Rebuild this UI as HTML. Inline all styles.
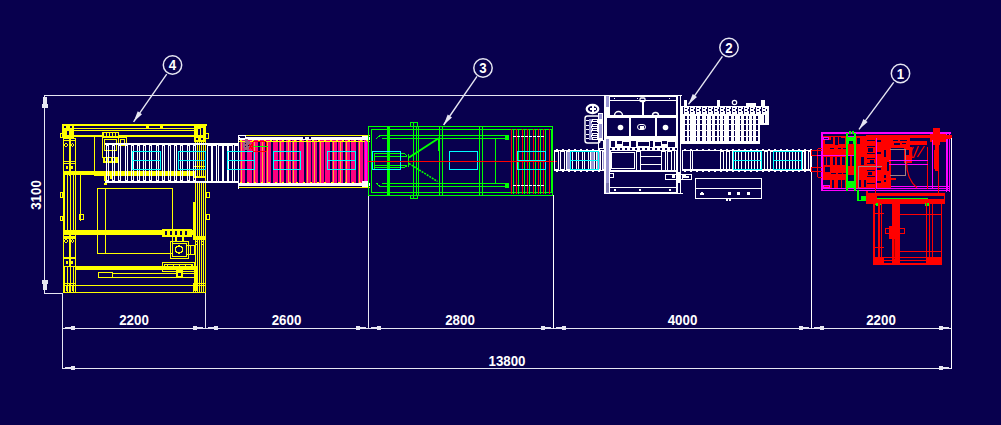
<!DOCTYPE html>
<html><head><meta charset="utf-8"><style>
html,body{margin:0;padding:0;background:#08004e;width:1001px;height:425px;overflow:hidden}
svg{display:block}
text{font-family:"Liberation Sans",sans-serif;font-weight:bold}
</style></head><body>
<svg width="1001" height="425" viewBox="0 0 1001 425" shape-rendering="crispEdges">
<rect width="1001" height="425" fill="#08004e"/>
<rect x="44" y="95" width="561" height="1" fill="#e6e6f2"/>
<rect x="44" y="95" width="1" height="199" fill="#e6e6f2"/>
<rect x="44" y="293" width="19" height="1" fill="#e6e6f2"/>
<rect x="43" y="97" width="4" height="8" fill="#e6e6f2"/>
<rect x="42" y="104" width="6" height="4" fill="#e6e6f2"/>
<rect x="43" y="284" width="4" height="6" fill="#e6e6f2"/>
<rect x="42" y="280" width="6" height="4" fill="#e6e6f2"/>
<text x="0" y="0" font-size="14" fill="#fff" text-anchor="middle" transform="translate(40.8,195) rotate(-90) scale(0.95,1.04)">3100</text>
<rect x="62" y="328" width="890" height="1" fill="#e6e6f2"/>
<rect x="62" y="368" width="890" height="1" fill="#e6e6f2"/>
<rect x="62" y="293" width="1" height="76" fill="#e6e6f2"/>
<rect x="205" y="293" width="1" height="36" fill="#e6e6f2"/>
<rect x="368" y="196" width="1" height="133" fill="#e6e6f2"/>
<rect x="553" y="195" width="1" height="134" fill="#e6e6f2"/>
<rect x="811" y="172" width="1" height="157" fill="#e6e6f2"/>
<rect x="951" y="138" width="1" height="231" fill="#e6e6f2"/>
<rect x="65" y="327" width="10" height="2" fill="#e6e6f2"/>
<rect x="71" y="326" width="4" height="4" fill="#e6e6f2"/>
<rect x="193" y="327" width="10" height="2" fill="#e6e6f2"/>
<rect x="193" y="326" width="4" height="4" fill="#e6e6f2"/>
<rect x="208" y="327" width="10" height="2" fill="#e6e6f2"/>
<rect x="214" y="326" width="4" height="4" fill="#e6e6f2"/>
<rect x="356" y="327" width="10" height="2" fill="#e6e6f2"/>
<rect x="356" y="326" width="4" height="4" fill="#e6e6f2"/>
<rect x="371" y="327" width="10" height="2" fill="#e6e6f2"/>
<rect x="377" y="326" width="4" height="4" fill="#e6e6f2"/>
<rect x="541" y="327" width="10" height="2" fill="#e6e6f2"/>
<rect x="541" y="326" width="4" height="4" fill="#e6e6f2"/>
<rect x="556" y="327" width="10" height="2" fill="#e6e6f2"/>
<rect x="562" y="326" width="4" height="4" fill="#e6e6f2"/>
<rect x="799" y="327" width="10" height="2" fill="#e6e6f2"/>
<rect x="799" y="326" width="4" height="4" fill="#e6e6f2"/>
<rect x="814" y="327" width="10" height="2" fill="#e6e6f2"/>
<rect x="820" y="326" width="4" height="4" fill="#e6e6f2"/>
<rect x="939" y="327" width="10" height="2" fill="#e6e6f2"/>
<rect x="939" y="326" width="4" height="4" fill="#e6e6f2"/>
<rect x="65" y="367" width="10" height="2" fill="#e6e6f2"/>
<rect x="71" y="366" width="4" height="4" fill="#e6e6f2"/>
<rect x="939" y="367" width="10" height="2" fill="#e6e6f2"/>
<rect x="939" y="366" width="4" height="4" fill="#e6e6f2"/>
<text x="0" y="0" font-size="14" fill="#fff" text-anchor="middle" transform="translate(134,325) scale(0.95,1.04)" >2200</text>
<text x="0" y="0" font-size="14" fill="#fff" text-anchor="middle" transform="translate(286.5,325) scale(0.95,1.04)" >2600</text>
<text x="0" y="0" font-size="14" fill="#fff" text-anchor="middle" transform="translate(460,325) scale(0.95,1.04)" >2800</text>
<text x="0" y="0" font-size="14" fill="#fff" text-anchor="middle" transform="translate(682.5,325) scale(0.95,1.04)" >4000</text>
<text x="0" y="0" font-size="14" fill="#fff" text-anchor="middle" transform="translate(881,325) scale(0.95,1.04)" >2200</text>
<text x="0" y="0" font-size="14" fill="#fff" text-anchor="middle" transform="translate(507,366) scale(0.95,1.04)" >13800</text>
<circle cx="172.5" cy="65" r="9.2" fill="none" stroke="#e6e6f2" stroke-width="1.5" shape-rendering="auto"/>
<text x="0" y="0" font-size="14" fill="#fff" text-anchor="middle" transform="translate(172.5,70.2) scale(0.95,1.04)" >4</text>
<line x1="166.7" y1="74.2" x2="133.6" y2="121.8" stroke="#e6e6f2" stroke-width="1.4" shape-rendering="auto"/>
<polygon shape-rendering="auto" points="133.6,121.8 142.0146692787392,114.25325626979141 137.7454138778588,111.28450934186826" fill="#e6e6f2"/>
<circle cx="483" cy="68" r="9.2" fill="none" stroke="#e6e6f2" stroke-width="1.5" shape-rendering="auto"/>
<text x="0" y="0" font-size="14" fill="#fff" text-anchor="middle" transform="translate(483,73.2) scale(0.95,1.04)" >3</text>
<line x1="477" y1="76.4" x2="443.6" y2="125" stroke="#e6e6f2" stroke-width="1.4" shape-rendering="auto"/>
<polygon shape-rendering="auto" points="443.6,125 451.97299990314895,117.40705112476921 447.68746738629096,114.46184976544707" fill="#e6e6f2"/>
<circle cx="729" cy="47.5" r="9.2" fill="none" stroke="#e6e6f2" stroke-width="1.5" shape-rendering="auto"/>
<text x="0" y="0" font-size="14" fill="#fff" text-anchor="middle" transform="translate(729,52.7) scale(0.95,1.04)" >2</text>
<line x1="722.4" y1="56.4" x2="688.5" y2="104.4" stroke="#e6e6f2" stroke-width="1.4" shape-rendering="auto"/>
<polygon shape-rendering="auto" points="688.5,104.4 696.9694682793196,96.91480747972373 692.7219712278464,93.91501268712086" fill="#e6e6f2"/>
<circle cx="900.5" cy="73.5" r="9.2" fill="none" stroke="#e6e6f2" stroke-width="1.5" shape-rendering="auto"/>
<text x="0" y="0" font-size="14" fill="#fff" text-anchor="middle" transform="translate(900.5,78.7) scale(0.95,1.04)" >1</text>
<line x1="893.7" y1="82.3" x2="859" y2="129.4" stroke="#e6e6f2" stroke-width="1.4" shape-rendering="auto"/>
<polygon shape-rendering="auto" points="859,129.4 867.6178048927053,122.08607910684948 863.4312911384976,119.00174731765607" fill="#e6e6f2"/>
<rect x="62" y="124" width="145" height="1" fill="#ffff00"/>
<rect x="62" y="125" width="145" height="1" fill="#ffff00"/>
<rect x="73" y="128" width="122" height="1" fill="#ffff00"/>
<rect x="73" y="130" width="123" height="1" fill="#ffff00"/>
<rect x="73" y="135" width="122" height="1" fill="#ffff00"/>
<rect x="73" y="136" width="122" height="1" fill="#ffff00"/>
<rect x="146" y="126" width="3" height="2" fill="#ffff00"/>
<rect x="160" y="126" width="3" height="2" fill="#ffff00"/>
<rect x="62" y="124" width="12" height="14" fill="#ffff00"/>
<rect x="64" y="126" width="2" height="2" fill="#08004e"/>
<rect x="67" y="131" width="2" height="4" fill="#08004e"/>
<rect x="70" y="126" width="2" height="2" fill="#08004e"/>
<rect x="60" y="133" width="3" height="1" fill="#ffff00"/>
<rect x="60" y="137" width="3" height="1" fill="#ffff00"/>
<rect x="60" y="133" width="1" height="5" fill="#ffff00"/>
<rect x="62" y="133" width="1" height="5" fill="#ffff00"/>
<rect x="194" y="124" width="12" height="18" fill="#ffff00"/>
<rect x="198" y="129" width="2" height="6" fill="#08004e"/>
<rect x="201" y="128" width="2" height="7" fill="#08004e"/>
<rect x="196" y="138" width="2" height="2" fill="#08004e"/>
<rect x="201" y="138" width="2" height="2" fill="#08004e"/>
<rect x="205" y="133" width="4" height="1" fill="#ffff00"/>
<rect x="205" y="138" width="4" height="1" fill="#ffff00"/>
<rect x="205" y="133" width="1" height="6" fill="#ffff00"/>
<rect x="208" y="133" width="1" height="6" fill="#ffff00"/>
<rect x="63" y="175" width="1" height="56" fill="#ffff00"/>
<rect x="64" y="175" width="1" height="56" fill="#ffff00"/>
<rect x="67" y="175" width="1" height="56" fill="#ffff00"/>
<rect x="70" y="175" width="1" height="56" fill="#ffff00"/>
<rect x="73" y="175" width="1" height="56" fill="#ffff00"/>
<rect x="75" y="175" width="1" height="56" fill="#ffff00"/>
<rect x="63" y="266" width="1" height="27" fill="#ffff00"/>
<rect x="64" y="266" width="1" height="27" fill="#ffff00"/>
<rect x="67" y="266" width="1" height="27" fill="#ffff00"/>
<rect x="70" y="266" width="1" height="27" fill="#ffff00"/>
<rect x="73" y="266" width="1" height="27" fill="#ffff00"/>
<rect x="75" y="266" width="1" height="27" fill="#ffff00"/>
<rect x="63" y="230" width="1" height="37" fill="#ffff00"/>
<rect x="69" y="230" width="1" height="37" fill="#ffff00"/>
<rect x="70" y="230" width="1" height="37" fill="#ffff00"/>
<rect x="75" y="230" width="1" height="37" fill="#ffff00"/>
<rect x="80" y="175" width="1" height="46" fill="#ffff00"/>
<rect x="63" y="138" width="1" height="38" fill="#ffff00"/>
<rect x="69" y="138" width="1" height="38" fill="#ffff00"/>
<rect x="63" y="138" width="7" height="1" fill="#ffff00"/>
<rect x="63" y="140" width="7" height="1" fill="#ffff00"/>
<rect x="63" y="138" width="1" height="3" fill="#ffff00"/>
<rect x="69" y="138" width="1" height="3" fill="#ffff00"/>
<circle cx="66.0" cy="145" r="1.3" fill="none" stroke="#ffff00" stroke-width="1"/>
<rect x="63" y="161" width="7" height="1" fill="#ffff00"/>
<rect x="63" y="236" width="7" height="3" fill="#ffff00"/>
<circle cx="66.0" cy="241" r="1.3" fill="none" stroke="#ffff00" stroke-width="1"/>
<rect x="63" y="257" width="7" height="1" fill="#ffff00"/>
<rect x="63" y="283" width="7" height="1" fill="#ffff00"/>
<rect x="63" y="292" width="7" height="1" fill="#ffff00"/>
<rect x="63" y="283" width="1" height="10" fill="#ffff00"/>
<rect x="69" y="283" width="1" height="10" fill="#ffff00"/>
<rect x="63" y="285" width="7" height="1" fill="#ffff00"/>
<rect x="66" y="286" width="1" height="5" fill="#ffff00"/>
<rect x="70" y="138" width="1" height="38" fill="#ffff00"/>
<rect x="75" y="138" width="1" height="38" fill="#ffff00"/>
<rect x="70" y="138" width="6" height="1" fill="#ffff00"/>
<rect x="70" y="140" width="6" height="1" fill="#ffff00"/>
<rect x="70" y="138" width="1" height="3" fill="#ffff00"/>
<rect x="75" y="138" width="1" height="3" fill="#ffff00"/>
<circle cx="72.5" cy="145" r="1.3" fill="none" stroke="#ffff00" stroke-width="1"/>
<rect x="70" y="161" width="6" height="1" fill="#ffff00"/>
<rect x="70" y="236" width="6" height="3" fill="#ffff00"/>
<circle cx="72.5" cy="241" r="1.3" fill="none" stroke="#ffff00" stroke-width="1"/>
<rect x="70" y="257" width="6" height="1" fill="#ffff00"/>
<rect x="70" y="283" width="6" height="1" fill="#ffff00"/>
<rect x="70" y="292" width="6" height="1" fill="#ffff00"/>
<rect x="70" y="283" width="1" height="10" fill="#ffff00"/>
<rect x="75" y="283" width="1" height="10" fill="#ffff00"/>
<rect x="70" y="285" width="6" height="1" fill="#ffff00"/>
<rect x="72" y="286" width="1" height="5" fill="#ffff00"/>
<rect x="63" y="163" width="13" height="1" fill="#ffff00"/>
<rect x="63" y="171" width="13" height="1" fill="#ffff00"/>
<rect x="63" y="163" width="1" height="9" fill="#ffff00"/>
<rect x="75" y="163" width="1" height="9" fill="#ffff00"/>
<rect x="66" y="166" width="2" height="3" fill="#ffff00"/>
<rect x="71" y="166" width="2" height="3" fill="#ffff00"/>
<rect x="63" y="258" width="13" height="1" fill="#ffff00"/>
<rect x="63" y="266" width="13" height="1" fill="#ffff00"/>
<rect x="63" y="258" width="1" height="9" fill="#ffff00"/>
<rect x="75" y="258" width="1" height="9" fill="#ffff00"/>
<rect x="66" y="261" width="2" height="3" fill="#ffff00"/>
<rect x="71" y="261" width="2" height="3" fill="#ffff00"/>
<rect x="63" y="171" width="32" height="4" fill="#ffff00"/>
<rect x="60" y="192" width="3" height="1" fill="#ffff00"/>
<rect x="60" y="197" width="3" height="1" fill="#ffff00"/>
<rect x="60" y="192" width="1" height="6" fill="#ffff00"/>
<rect x="62" y="192" width="1" height="6" fill="#ffff00"/>
<rect x="60" y="216" width="3" height="1" fill="#ffff00"/>
<rect x="60" y="220" width="3" height="1" fill="#ffff00"/>
<rect x="60" y="216" width="1" height="5" fill="#ffff00"/>
<rect x="62" y="216" width="1" height="5" fill="#ffff00"/>
<rect x="195" y="141" width="1" height="152" fill="#ffff00"/>
<rect x="197" y="141" width="1" height="152" fill="#ffff00"/>
<rect x="199" y="141" width="1" height="152" fill="#ffff00"/>
<rect x="201" y="141" width="1" height="152" fill="#ffff00"/>
<rect x="203" y="141" width="1" height="152" fill="#ffff00"/>
<rect x="205" y="141" width="1" height="152" fill="#ffff00"/>
<rect x="193" y="202" width="3" height="34" fill="#ffff00"/>
<rect x="193" y="166" width="13" height="1" fill="#ffff00"/>
<rect x="193" y="169" width="13" height="1" fill="#ffff00"/>
<rect x="193" y="166" width="1" height="4" fill="#ffff00"/>
<rect x="205" y="166" width="1" height="4" fill="#ffff00"/>
<rect x="193" y="176" width="13" height="7" fill="#ffff00"/>
<rect x="194" y="178" width="11" height="3" fill="#08004e"/>
<rect x="193" y="236" width="13" height="4" fill="#ffff00"/>
<circle cx="196.5" cy="243" r="1.3" fill="none" stroke="#ffff00" stroke-width="1"/>
<circle cx="202.5" cy="243" r="1.3" fill="none" stroke="#ffff00" stroke-width="1"/>
<rect x="193" y="283" width="13" height="1" fill="#ffff00"/>
<rect x="193" y="292" width="13" height="1" fill="#ffff00"/>
<rect x="193" y="283" width="1" height="10" fill="#ffff00"/>
<rect x="205" y="283" width="1" height="10" fill="#ffff00"/>
<rect x="193" y="285" width="13" height="1" fill="#ffff00"/>
<rect x="199" y="286" width="1" height="5" fill="#ffff00"/>
<rect x="206" y="192" width="4" height="1" fill="#ffff00"/>
<rect x="206" y="197" width="4" height="1" fill="#ffff00"/>
<rect x="206" y="192" width="1" height="6" fill="#ffff00"/>
<rect x="209" y="192" width="1" height="6" fill="#ffff00"/>
<rect x="206" y="214" width="4" height="1" fill="#ffff00"/>
<rect x="206" y="219" width="4" height="1" fill="#ffff00"/>
<rect x="206" y="214" width="1" height="6" fill="#ffff00"/>
<rect x="209" y="214" width="1" height="6" fill="#ffff00"/>
<rect x="102" y="132" width="17" height="6" fill="#ffff00"/>
<rect x="104" y="133" width="2" height="3" fill="#08004e"/>
<rect x="107" y="133" width="2" height="3" fill="#08004e"/>
<rect x="110" y="133" width="2" height="3" fill="#08004e"/>
<rect x="113" y="133" width="2" height="3" fill="#08004e"/>
<rect x="116" y="133" width="2" height="3" fill="#08004e"/>
<rect x="102" y="137" width="17" height="1" fill="#ffff00"/>
<rect x="102" y="157" width="17" height="1" fill="#ffff00"/>
<rect x="102" y="137" width="1" height="21" fill="#ffff00"/>
<rect x="118" y="137" width="1" height="21" fill="#ffff00"/>
<rect x="104" y="139" width="13" height="1" fill="#ffff00"/>
<rect x="104" y="150" width="13" height="1" fill="#ffff00"/>
<rect x="104" y="139" width="1" height="12" fill="#ffff00"/>
<rect x="116" y="139" width="1" height="12" fill="#ffff00"/>
<rect x="118" y="137" width="9" height="1" fill="#ffff00"/>
<rect x="118" y="145" width="9" height="1" fill="#ffff00"/>
<rect x="118" y="137" width="1" height="9" fill="#ffff00"/>
<rect x="126" y="137" width="1" height="9" fill="#ffff00"/>
<rect x="120" y="139" width="5" height="1" fill="#ffff00"/>
<rect x="120" y="143" width="5" height="1" fill="#ffff00"/>
<rect x="120" y="139" width="1" height="5" fill="#ffff00"/>
<rect x="124" y="139" width="1" height="5" fill="#ffff00"/>
<rect x="103" y="157" width="15" height="6" fill="#ffff00"/>
<rect x="105" y="158" width="2" height="3" fill="#08004e"/>
<rect x="109" y="158" width="2" height="3" fill="#08004e"/>
<rect x="113" y="158" width="2" height="3" fill="#08004e"/>
<rect x="94" y="137" width="1" height="37" fill="#ffff00"/>
<rect x="79" y="214" width="5" height="1" fill="#ffff00"/>
<rect x="79" y="219" width="5" height="1" fill="#ffff00"/>
<rect x="79" y="214" width="1" height="6" fill="#ffff00"/>
<rect x="83" y="214" width="1" height="6" fill="#ffff00"/>
<rect x="94" y="171" width="101" height="4" fill="#ffff00"/>
<rect x="94" y="175" width="101" height="1" fill="#ffff00"/>
<rect x="104" y="176" width="3" height="5" fill="#ffff00"/>
<rect x="110" y="176" width="3" height="3" fill="#ffff00"/>
<rect x="104" y="183" width="3" height="2" fill="#ffff00"/>
<rect x="105" y="143" width="134" height="1" fill="#ffffff"/>
<rect x="105" y="144" width="134" height="1" fill="#ffffff"/>
<rect x="105" y="181" width="134" height="1" fill="#ffffff"/>
<rect x="105" y="182" width="134" height="1" fill="#ffffff"/>
<rect x="106" y="145" width="3" height="1" fill="#ffffff"/>
<rect x="106" y="180" width="3" height="1" fill="#ffffff"/>
<rect x="106" y="145" width="1" height="36" fill="#ffffff"/>
<rect x="108" y="145" width="1" height="36" fill="#ffffff"/>
<rect x="112" y="145" width="3" height="1" fill="#ffffff"/>
<rect x="112" y="180" width="3" height="1" fill="#ffffff"/>
<rect x="112" y="145" width="1" height="36" fill="#ffffff"/>
<rect x="114" y="145" width="1" height="36" fill="#ffffff"/>
<rect x="118" y="145" width="3" height="1" fill="#ffffff"/>
<rect x="118" y="180" width="3" height="1" fill="#ffffff"/>
<rect x="118" y="145" width="1" height="36" fill="#ffffff"/>
<rect x="120" y="145" width="1" height="36" fill="#ffffff"/>
<rect x="125" y="145" width="3" height="1" fill="#ffffff"/>
<rect x="125" y="180" width="3" height="1" fill="#ffffff"/>
<rect x="125" y="145" width="1" height="36" fill="#ffffff"/>
<rect x="127" y="145" width="1" height="36" fill="#ffffff"/>
<rect x="131" y="145" width="3" height="1" fill="#ffffff"/>
<rect x="131" y="180" width="3" height="1" fill="#ffffff"/>
<rect x="131" y="145" width="1" height="36" fill="#ffffff"/>
<rect x="133" y="145" width="1" height="36" fill="#ffffff"/>
<rect x="137" y="145" width="3" height="1" fill="#ffffff"/>
<rect x="137" y="180" width="3" height="1" fill="#ffffff"/>
<rect x="137" y="145" width="1" height="36" fill="#ffffff"/>
<rect x="139" y="145" width="1" height="36" fill="#ffffff"/>
<rect x="143" y="145" width="3" height="1" fill="#ffffff"/>
<rect x="143" y="180" width="3" height="1" fill="#ffffff"/>
<rect x="143" y="145" width="1" height="36" fill="#ffffff"/>
<rect x="145" y="145" width="1" height="36" fill="#ffffff"/>
<rect x="149" y="145" width="3" height="1" fill="#ffffff"/>
<rect x="149" y="180" width="3" height="1" fill="#ffffff"/>
<rect x="149" y="145" width="1" height="36" fill="#ffffff"/>
<rect x="151" y="145" width="1" height="36" fill="#ffffff"/>
<rect x="156" y="145" width="3" height="1" fill="#ffffff"/>
<rect x="156" y="180" width="3" height="1" fill="#ffffff"/>
<rect x="156" y="145" width="1" height="36" fill="#ffffff"/>
<rect x="158" y="145" width="1" height="36" fill="#ffffff"/>
<rect x="162" y="145" width="3" height="1" fill="#ffffff"/>
<rect x="162" y="180" width="3" height="1" fill="#ffffff"/>
<rect x="162" y="145" width="1" height="36" fill="#ffffff"/>
<rect x="164" y="145" width="1" height="36" fill="#ffffff"/>
<rect x="168" y="145" width="3" height="1" fill="#ffffff"/>
<rect x="168" y="180" width="3" height="1" fill="#ffffff"/>
<rect x="168" y="145" width="1" height="36" fill="#ffffff"/>
<rect x="170" y="145" width="1" height="36" fill="#ffffff"/>
<rect x="174" y="145" width="3" height="1" fill="#ffffff"/>
<rect x="174" y="180" width="3" height="1" fill="#ffffff"/>
<rect x="174" y="145" width="1" height="36" fill="#ffffff"/>
<rect x="176" y="145" width="1" height="36" fill="#ffffff"/>
<rect x="180" y="145" width="3" height="1" fill="#ffffff"/>
<rect x="180" y="180" width="3" height="1" fill="#ffffff"/>
<rect x="180" y="145" width="1" height="36" fill="#ffffff"/>
<rect x="182" y="145" width="1" height="36" fill="#ffffff"/>
<rect x="187" y="145" width="3" height="1" fill="#ffffff"/>
<rect x="187" y="180" width="3" height="1" fill="#ffffff"/>
<rect x="187" y="145" width="1" height="36" fill="#ffffff"/>
<rect x="189" y="145" width="1" height="36" fill="#ffffff"/>
<rect x="193" y="145" width="3" height="1" fill="#ffffff"/>
<rect x="193" y="180" width="3" height="1" fill="#ffffff"/>
<rect x="193" y="145" width="1" height="36" fill="#ffffff"/>
<rect x="195" y="145" width="1" height="36" fill="#ffffff"/>
<rect x="207" y="145" width="5" height="1" fill="#ffffff"/>
<rect x="207" y="181" width="5" height="1" fill="#ffffff"/>
<rect x="207" y="145" width="1" height="37" fill="#ffffff"/>
<rect x="211" y="145" width="1" height="37" fill="#ffffff"/>
<rect x="212" y="145" width="5" height="1" fill="#ffffff"/>
<rect x="212" y="181" width="5" height="1" fill="#ffffff"/>
<rect x="212" y="145" width="1" height="37" fill="#ffffff"/>
<rect x="216" y="145" width="1" height="37" fill="#ffffff"/>
<rect x="218" y="145" width="5" height="1" fill="#ffffff"/>
<rect x="218" y="181" width="5" height="1" fill="#ffffff"/>
<rect x="218" y="145" width="1" height="37" fill="#ffffff"/>
<rect x="222" y="145" width="1" height="37" fill="#ffffff"/>
<rect x="223" y="145" width="5" height="1" fill="#ffffff"/>
<rect x="223" y="181" width="5" height="1" fill="#ffffff"/>
<rect x="223" y="145" width="1" height="37" fill="#ffffff"/>
<rect x="227" y="145" width="1" height="37" fill="#ffffff"/>
<rect x="228" y="145" width="5" height="1" fill="#ffffff"/>
<rect x="228" y="181" width="5" height="1" fill="#ffffff"/>
<rect x="228" y="145" width="1" height="37" fill="#ffffff"/>
<rect x="232" y="145" width="1" height="37" fill="#ffffff"/>
<rect x="234" y="145" width="5" height="1" fill="#ffffff"/>
<rect x="234" y="181" width="5" height="1" fill="#ffffff"/>
<rect x="234" y="145" width="1" height="37" fill="#ffffff"/>
<rect x="238" y="145" width="1" height="37" fill="#ffffff"/>
<rect x="132" y="151" width="29" height="1" fill="#00ffff"/>
<rect x="132" y="169" width="29" height="1" fill="#00ffff"/>
<rect x="132" y="151" width="1" height="19" fill="#00ffff"/>
<rect x="160" y="151" width="1" height="19" fill="#00ffff"/>
<rect x="132" y="160" width="29" height="1" fill="#00ffff"/>
<rect x="178" y="151" width="28" height="1" fill="#00ffff"/>
<rect x="178" y="169" width="28" height="1" fill="#00ffff"/>
<rect x="178" y="151" width="1" height="19" fill="#00ffff"/>
<rect x="205" y="151" width="1" height="19" fill="#00ffff"/>
<rect x="178" y="160" width="28" height="1" fill="#00ffff"/>
<rect x="97" y="188" width="76" height="1" fill="#ffff00"/>
<rect x="97" y="253" width="76" height="1" fill="#ffff00"/>
<rect x="97" y="188" width="1" height="66" fill="#ffff00"/>
<rect x="172" y="188" width="1" height="66" fill="#ffff00"/>
<rect x="105" y="188" width="1" height="66" fill="#ffff00"/>
<rect x="63" y="230" width="131" height="5" fill="#ffff00"/>
<rect x="75" y="266" width="119" height="4" fill="#ffff00"/>
<rect x="98" y="272" width="15" height="1" fill="#ffff00"/>
<rect x="98" y="277" width="15" height="1" fill="#ffff00"/>
<rect x="98" y="272" width="1" height="6" fill="#ffff00"/>
<rect x="112" y="272" width="1" height="6" fill="#ffff00"/>
<rect x="112" y="273" width="82" height="1" fill="#ffff00"/>
<rect x="112" y="277" width="82" height="1" fill="#ffff00"/>
<rect x="75" y="285" width="119" height="1" fill="#ffff00"/>
<rect x="63" y="292" width="143" height="1" fill="#ffff00"/>
<rect x="162" y="229" width="30" height="8" fill="#ffff00"/>
<rect x="165" y="231" width="2" height="4" fill="#08004e"/>
<rect x="170" y="231" width="2" height="4" fill="#08004e"/>
<rect x="175" y="231" width="2" height="4" fill="#08004e"/>
<rect x="180" y="231" width="2" height="4" fill="#08004e"/>
<rect x="185" y="231" width="2" height="4" fill="#08004e"/>
<rect x="170" y="241" width="19" height="1" fill="#ffff00"/>
<rect x="170" y="258" width="19" height="1" fill="#ffff00"/>
<rect x="170" y="241" width="1" height="18" fill="#ffff00"/>
<rect x="188" y="241" width="1" height="18" fill="#ffff00"/>
<rect x="172" y="243" width="15" height="1" fill="#ffff00"/>
<rect x="172" y="256" width="15" height="1" fill="#ffff00"/>
<rect x="172" y="243" width="1" height="14" fill="#ffff00"/>
<rect x="186" y="243" width="1" height="14" fill="#ffff00"/>
<circle cx="179" cy="249.5" r="3.5" fill="none" stroke="#ffff00" stroke-width="1.5"/>
<rect x="162" y="262" width="33" height="1" fill="#ffff00"/>
<rect x="162" y="271" width="33" height="1" fill="#ffff00"/>
<rect x="162" y="262" width="1" height="10" fill="#ffff00"/>
<rect x="194" y="262" width="1" height="10" fill="#ffff00"/>
<rect x="164" y="264" width="29" height="1" fill="#ffff00"/>
<rect x="164" y="269" width="29" height="1" fill="#ffff00"/>
<rect x="164" y="264" width="1" height="6" fill="#ffff00"/>
<rect x="192" y="264" width="1" height="6" fill="#ffff00"/>
<rect x="167" y="264" width="1" height="6" fill="#ffff00"/>
<rect x="173" y="264" width="1" height="6" fill="#ffff00"/>
<rect x="179" y="264" width="1" height="6" fill="#ffff00"/>
<rect x="185" y="264" width="1" height="6" fill="#ffff00"/>
<rect x="191" y="264" width="1" height="6" fill="#ffff00"/>
<rect x="176" y="270" width="7" height="8" fill="#ffff00"/>
<rect x="178" y="273" width="3" height="3" fill="#08004e"/>
<rect x="175" y="236" width="2" height="5" fill="#ffff00"/>
<rect x="182" y="236" width="2" height="5" fill="#ffff00"/>
<rect x="194" y="266" width="4" height="25" fill="#ffff00"/>
<rect x="186" y="245" width="9" height="1" fill="#ffff00"/>
<rect x="186" y="254" width="9" height="1" fill="#ffff00"/>
<rect x="186" y="245" width="1" height="10" fill="#ffff00"/>
<rect x="194" y="245" width="1" height="10" fill="#ffff00"/>
<rect x="190" y="245" width="1" height="10" fill="#ffff00"/>
<rect x="240" y="140" width="5" height="43" fill="#ff0080"/>
<rect x="241" y="141" width="1" height="42" fill="#ffb030"/>
<rect x="247" y="140" width="5" height="43" fill="#ff0080"/>
<rect x="253" y="140" width="5" height="43" fill="#ff0080"/>
<rect x="254" y="141" width="1" height="42" fill="#ffb030"/>
<rect x="260" y="140" width="5" height="43" fill="#ff0080"/>
<rect x="262" y="141" width="1" height="42" fill="#ffb030"/>
<rect x="266" y="140" width="5" height="43" fill="#ff0080"/>
<rect x="267" y="141" width="1" height="42" fill="#ffb030"/>
<rect x="273" y="140" width="5" height="43" fill="#ff0080"/>
<rect x="279" y="140" width="5" height="43" fill="#ff0080"/>
<rect x="280" y="141" width="1" height="42" fill="#ffb030"/>
<rect x="286" y="140" width="5" height="43" fill="#ff0080"/>
<rect x="288" y="141" width="1" height="42" fill="#ffb030"/>
<rect x="292" y="140" width="5" height="43" fill="#ff0080"/>
<rect x="293" y="141" width="1" height="42" fill="#ffb030"/>
<rect x="299" y="140" width="5" height="43" fill="#ff0080"/>
<rect x="306" y="140" width="5" height="43" fill="#ff0080"/>
<rect x="307" y="141" width="1" height="42" fill="#ffb030"/>
<rect x="312" y="140" width="5" height="43" fill="#ff0080"/>
<rect x="314" y="141" width="1" height="42" fill="#ffb030"/>
<rect x="319" y="140" width="5" height="43" fill="#ff0080"/>
<rect x="320" y="141" width="1" height="42" fill="#ffb030"/>
<rect x="325" y="140" width="5" height="43" fill="#ff0080"/>
<rect x="332" y="140" width="5" height="43" fill="#ff0080"/>
<rect x="333" y="141" width="1" height="42" fill="#ffb030"/>
<rect x="338" y="140" width="5" height="43" fill="#ff0080"/>
<rect x="340" y="141" width="1" height="42" fill="#ffb030"/>
<rect x="345" y="140" width="5" height="43" fill="#ff0080"/>
<rect x="346" y="141" width="1" height="42" fill="#ffb030"/>
<rect x="351" y="140" width="5" height="43" fill="#ff0080"/>
<rect x="358" y="140" width="5" height="43" fill="#ff0080"/>
<rect x="359" y="141" width="1" height="42" fill="#ffb030"/>
<rect x="364" y="140" width="5" height="43" fill="#ff0080"/>
<rect x="366" y="141" width="1" height="42" fill="#ffb030"/>
<rect x="238" y="135" width="132" height="1" fill="#ffff00"/>
<rect x="238" y="137" width="132" height="3" fill="#ffffff"/>
<rect x="238" y="135" width="8" height="1" fill="#ffffff"/>
<rect x="238" y="139" width="8" height="1" fill="#ffffff"/>
<rect x="238" y="135" width="1" height="5" fill="#ffffff"/>
<rect x="245" y="135" width="1" height="5" fill="#ffffff"/>
<rect x="240" y="136" width="5" height="2" fill="#08004e"/>
<rect x="303" y="137" width="2" height="2" fill="#08004e"/>
<rect x="309" y="137" width="2" height="2" fill="#08004e"/>
<rect x="362" y="137" width="2" height="2" fill="#08004e"/>
<rect x="366" y="137" width="2" height="2" fill="#08004e"/>
<rect x="238" y="141" width="132" height="1" fill="#ffff00"/>
<rect x="240" y="140" width="2" height="2" fill="#ffff00"/>
<rect x="246" y="140" width="2" height="2" fill="#ffff00"/>
<rect x="252" y="140" width="2" height="2" fill="#ffff00"/>
<rect x="258" y="140" width="2" height="2" fill="#ffff00"/>
<rect x="264" y="140" width="2" height="2" fill="#ffff00"/>
<rect x="270" y="140" width="2" height="2" fill="#ffff00"/>
<rect x="276" y="140" width="2" height="2" fill="#ffff00"/>
<rect x="282" y="140" width="2" height="2" fill="#ffff00"/>
<rect x="288" y="140" width="2" height="2" fill="#ffff00"/>
<rect x="294" y="140" width="2" height="2" fill="#ffff00"/>
<rect x="300" y="140" width="2" height="2" fill="#ffff00"/>
<rect x="306" y="140" width="2" height="2" fill="#ffff00"/>
<rect x="312" y="140" width="2" height="2" fill="#ffff00"/>
<rect x="318" y="140" width="2" height="2" fill="#ffff00"/>
<rect x="324" y="140" width="2" height="2" fill="#ffff00"/>
<rect x="330" y="140" width="2" height="2" fill="#ffff00"/>
<rect x="336" y="140" width="2" height="2" fill="#ffff00"/>
<rect x="342" y="140" width="2" height="2" fill="#ffff00"/>
<rect x="348" y="140" width="2" height="2" fill="#ffff00"/>
<rect x="354" y="140" width="2" height="2" fill="#ffff00"/>
<rect x="360" y="140" width="2" height="2" fill="#ffff00"/>
<rect x="366" y="140" width="2" height="2" fill="#ffff00"/>
<rect x="240" y="182" width="2" height="1" fill="#ffff00"/>
<rect x="247" y="182" width="2" height="1" fill="#ffff00"/>
<rect x="254" y="182" width="2" height="1" fill="#ffff00"/>
<rect x="261" y="182" width="2" height="1" fill="#ffff00"/>
<rect x="268" y="182" width="2" height="1" fill="#ffff00"/>
<rect x="275" y="182" width="2" height="1" fill="#ffff00"/>
<rect x="282" y="182" width="2" height="1" fill="#ffff00"/>
<rect x="289" y="182" width="2" height="1" fill="#ffff00"/>
<rect x="296" y="182" width="2" height="1" fill="#ffff00"/>
<rect x="303" y="182" width="2" height="1" fill="#ffff00"/>
<rect x="310" y="182" width="2" height="1" fill="#ffff00"/>
<rect x="317" y="182" width="2" height="1" fill="#ffff00"/>
<rect x="324" y="182" width="2" height="1" fill="#ffff00"/>
<rect x="331" y="182" width="2" height="1" fill="#ffff00"/>
<rect x="338" y="182" width="2" height="1" fill="#ffff00"/>
<rect x="345" y="182" width="2" height="1" fill="#ffff00"/>
<rect x="352" y="182" width="2" height="1" fill="#ffff00"/>
<rect x="359" y="182" width="2" height="1" fill="#ffff00"/>
<rect x="366" y="182" width="2" height="1" fill="#ffff00"/>
<rect x="239" y="183" width="131" height="3" fill="#ffffff"/>
<rect x="238" y="187" width="132" height="1" fill="#ffff00"/>
<rect x="238" y="135" width="1" height="54" fill="#ffffff"/>
<rect x="366" y="141" width="1" height="42" fill="#ff00ff"/>
<rect x="365" y="141" width="1" height="42" fill="#ff00ff"/>
<rect x="362" y="136" width="7" height="4" fill="#ffffff"/>
<rect x="362" y="181" width="7" height="6" fill="#ffffff"/>
<rect x="368" y="135" width="1" height="7" fill="#ffffff"/>
<rect x="368" y="181" width="1" height="7" fill="#ffffff"/>
<rect x="227" y="151" width="28" height="1" fill="#00ffff"/>
<rect x="227" y="169" width="28" height="1" fill="#00ffff"/>
<rect x="227" y="151" width="1" height="19" fill="#00ffff"/>
<rect x="254" y="151" width="1" height="19" fill="#00ffff"/>
<rect x="227" y="160" width="28" height="1" fill="#00ffff"/>
<rect x="273" y="151" width="28" height="1" fill="#00ffff"/>
<rect x="273" y="169" width="28" height="1" fill="#00ffff"/>
<rect x="273" y="151" width="1" height="19" fill="#00ffff"/>
<rect x="300" y="151" width="1" height="19" fill="#00ffff"/>
<rect x="273" y="160" width="28" height="1" fill="#00ffff"/>
<rect x="327" y="151" width="29" height="1" fill="#00ffff"/>
<rect x="327" y="169" width="29" height="1" fill="#00ffff"/>
<rect x="327" y="151" width="1" height="19" fill="#00ffff"/>
<rect x="355" y="151" width="1" height="19" fill="#00ffff"/>
<rect x="327" y="160" width="29" height="1" fill="#00ffff"/>
<path d="M245,139 H248 V141 H250 V143 H251 V148 H249 V150 H244 V148 H243 V142 H245 Z" fill="#a0607e"/>
<rect x="245" y="143" width="1" height="1" fill="#08004e"/>
<rect x="245" y="146" width="1" height="1" fill="#08004e"/>
<rect x="248" y="145" width="1" height="1" fill="#08004e"/>
<rect x="252.5" y="141.5" width="14" height="10" rx="2" fill="none" stroke="#ff0000" stroke-width="1"/>
<rect x="253" y="146" width="15" height="1" fill="#00ff00"/>
<line x1="249" y1="144" x2="252" y2="149" stroke="#ff0000" stroke-width="1.2"/>
<line x1="249" y1="149" x2="252" y2="144" stroke="#ff0000" stroke-width="1.2"/>
<rect x="368" y="126" width="185" height="1" fill="#00ff00"/>
<rect x="368" y="195" width="185" height="1" fill="#00ff00"/>
<rect x="368" y="126" width="1" height="70" fill="#00ff00"/>
<rect x="552" y="126" width="1" height="70" fill="#00ff00"/>
<rect x="371" y="129" width="181" height="1" fill="#00ff00"/>
<rect x="371" y="192" width="181" height="1" fill="#00ff00"/>
<rect x="371" y="129" width="1" height="64" fill="#00ff00"/>
<rect x="551" y="129" width="1" height="64" fill="#00ff00"/>
<path d="M381.5,135.5 H508.5 M381.5,138.5 H508.5 M381.5,135.5 C378,135.5 377,138.5 376.5,139 M381.5,183.5 H508.5 M381.5,186.5 H508.5 M381.5,186.5 C378,186.5 377,183.5 376.5,183" stroke="#00ff00" fill="none" stroke-width="1"/>
<rect x="505" y="136" width="4" height="4" fill="#00ff00"/>
<rect x="505" y="184" width="4" height="4" fill="#00ff00"/>
<rect x="387" y="126" width="3" height="70" fill="#00ff00"/>
<rect x="413" y="123" width="1" height="76" fill="#00ff00"/>
<rect x="416" y="126" width="1" height="70" fill="#00ff00"/>
<rect x="418" y="126" width="1" height="70" fill="#00ff00"/>
<rect x="410" y="122" width="8" height="1" fill="#00ff00"/>
<rect x="410" y="126" width="8" height="1" fill="#00ff00"/>
<rect x="410" y="122" width="1" height="5" fill="#00ff00"/>
<rect x="417" y="122" width="1" height="5" fill="#00ff00"/>
<rect x="410" y="195" width="8" height="1" fill="#00ff00"/>
<rect x="410" y="198" width="8" height="1" fill="#00ff00"/>
<rect x="410" y="195" width="1" height="4" fill="#00ff00"/>
<rect x="417" y="195" width="1" height="4" fill="#00ff00"/>
<rect x="439" y="126" width="1" height="70" fill="#00ff00"/>
<rect x="442" y="126" width="1" height="70" fill="#00ff00"/>
<rect x="438" y="139" width="2" height="12" fill="#00ff00"/>
<rect x="479" y="126" width="1" height="70" fill="#00ff00"/>
<rect x="482" y="126" width="1" height="70" fill="#00ff00"/>
<rect x="495" y="139" width="1" height="44" fill="#00ff00"/>
<line x1="409" y1="157.5" x2="439" y2="138" stroke="#00ff00" stroke-width="2" shape-rendering="auto"/>
<line x1="409" y1="163.5" x2="437.5" y2="181.5" stroke="#00ff00" stroke-width="1.6" stroke-dasharray="2 1" shape-rendering="auto"/>
<path d="M374.5,153.5 H403 Q406.5,153.5 406.5,156.5 M374.5,156.5 H406.5 M374.5,165.5 H406.5 M374.5,167.5 H403 Q406.5,167.5 406.5,165 M408.5,154 V167" stroke="#00ff00" fill="none" stroke-width="1"/>
<rect x="374" y="153" width="1" height="16" fill="#00ff00"/>
<rect x="511" y="129" width="1" height="65" fill="#ff0000"/>
<rect x="513" y="129" width="1" height="65" fill="#00ff00"/>
<rect x="516" y="129" width="1" height="65" fill="#ff0000"/>
<rect x="518" y="129" width="1" height="65" fill="#00ff00"/>
<rect x="522" y="129" width="1" height="65" fill="#ff0000"/>
<rect x="524" y="129" width="1" height="65" fill="#00ff00"/>
<rect x="527" y="129" width="1" height="65" fill="#ff0000"/>
<rect x="529" y="129" width="1" height="65" fill="#00ff00"/>
<rect x="533" y="129" width="1" height="65" fill="#ff0000"/>
<rect x="535" y="129" width="1" height="65" fill="#00ff00"/>
<rect x="538" y="129" width="1" height="65" fill="#ff0000"/>
<rect x="540" y="129" width="1" height="65" fill="#00ff00"/>
<rect x="543" y="129" width="1" height="65" fill="#ff0000"/>
<rect x="545" y="129" width="1" height="65" fill="#00ff00"/>
<rect x="549" y="129" width="1" height="65" fill="#ff0000"/>
<rect x="513" y="136" width="3" height="1" fill="#ffffff"/>
<rect x="513" y="185" width="3" height="1" fill="#ffffff"/>
<rect x="517" y="136" width="3" height="1" fill="#ffffff"/>
<rect x="517" y="185" width="3" height="1" fill="#ffffff"/>
<rect x="521" y="136" width="3" height="1" fill="#ffffff"/>
<rect x="521" y="185" width="3" height="1" fill="#ffffff"/>
<rect x="525" y="136" width="3" height="1" fill="#ffffff"/>
<rect x="525" y="185" width="3" height="1" fill="#ffffff"/>
<rect x="529" y="136" width="3" height="1" fill="#ffffff"/>
<rect x="529" y="185" width="3" height="1" fill="#ffffff"/>
<rect x="533" y="136" width="3" height="1" fill="#ffffff"/>
<rect x="533" y="185" width="3" height="1" fill="#ffffff"/>
<rect x="537" y="136" width="3" height="1" fill="#ffffff"/>
<rect x="537" y="185" width="3" height="1" fill="#ffffff"/>
<rect x="541" y="136" width="3" height="1" fill="#ffffff"/>
<rect x="541" y="185" width="3" height="1" fill="#ffffff"/>
<rect x="372" y="151" width="29" height="1" fill="#00ffff"/>
<rect x="372" y="169" width="29" height="1" fill="#00ffff"/>
<rect x="372" y="151" width="1" height="19" fill="#00ffff"/>
<rect x="400" y="151" width="1" height="19" fill="#00ffff"/>
<rect x="449" y="151" width="29" height="1" fill="#00ffff"/>
<rect x="449" y="169" width="29" height="1" fill="#00ffff"/>
<rect x="449" y="151" width="1" height="19" fill="#00ffff"/>
<rect x="477" y="151" width="1" height="19" fill="#00ffff"/>
<rect x="517" y="151" width="29" height="1" fill="#00ffff"/>
<rect x="517" y="169" width="29" height="1" fill="#00ffff"/>
<rect x="517" y="151" width="1" height="19" fill="#00ffff"/>
<rect x="545" y="151" width="1" height="19" fill="#00ffff"/>
<rect x="517" y="160" width="29" height="1" fill="#00ffff"/>
<rect x="368" y="161" width="189" height="1" fill="#ff0000"/>
<rect x="554" y="150" width="51" height="1" fill="#ffffff"/>
<rect x="554" y="170" width="51" height="1" fill="#ffffff"/>
<rect x="554" y="151" width="5" height="1" fill="#ffffff"/>
<rect x="554" y="169" width="5" height="1" fill="#ffffff"/>
<rect x="554" y="151" width="1" height="19" fill="#ffffff"/>
<rect x="558" y="151" width="1" height="19" fill="#ffffff"/>
<rect x="556" y="149" width="2" height="1" fill="#ffffff"/>
<rect x="556" y="171" width="2" height="1" fill="#ffffff"/>
<rect x="560" y="151" width="5" height="1" fill="#ffffff"/>
<rect x="560" y="169" width="5" height="1" fill="#ffffff"/>
<rect x="560" y="151" width="1" height="19" fill="#ffffff"/>
<rect x="564" y="151" width="1" height="19" fill="#ffffff"/>
<rect x="562" y="149" width="2" height="1" fill="#ffffff"/>
<rect x="562" y="171" width="2" height="1" fill="#ffffff"/>
<rect x="566" y="151" width="5" height="1" fill="#ffffff"/>
<rect x="566" y="169" width="5" height="1" fill="#ffffff"/>
<rect x="566" y="151" width="1" height="19" fill="#ffffff"/>
<rect x="570" y="151" width="1" height="19" fill="#ffffff"/>
<rect x="567" y="152" width="3" height="17" fill="#9a96d2"/>
<rect x="568" y="149" width="2" height="1" fill="#ffffff"/>
<rect x="568" y="171" width="2" height="1" fill="#ffffff"/>
<rect x="572" y="151" width="5" height="1" fill="#ffffff"/>
<rect x="572" y="169" width="5" height="1" fill="#ffffff"/>
<rect x="572" y="151" width="1" height="19" fill="#ffffff"/>
<rect x="576" y="151" width="1" height="19" fill="#ffffff"/>
<rect x="574" y="149" width="2" height="1" fill="#ffffff"/>
<rect x="574" y="171" width="2" height="1" fill="#ffffff"/>
<rect x="578" y="151" width="5" height="1" fill="#ffffff"/>
<rect x="578" y="169" width="5" height="1" fill="#ffffff"/>
<rect x="578" y="151" width="1" height="19" fill="#ffffff"/>
<rect x="582" y="151" width="1" height="19" fill="#ffffff"/>
<rect x="580" y="149" width="2" height="1" fill="#ffffff"/>
<rect x="580" y="171" width="2" height="1" fill="#ffffff"/>
<rect x="584" y="151" width="5" height="1" fill="#ffffff"/>
<rect x="584" y="169" width="5" height="1" fill="#ffffff"/>
<rect x="584" y="151" width="1" height="19" fill="#ffffff"/>
<rect x="588" y="151" width="1" height="19" fill="#ffffff"/>
<rect x="586" y="149" width="2" height="1" fill="#ffffff"/>
<rect x="586" y="171" width="2" height="1" fill="#ffffff"/>
<rect x="590" y="151" width="5" height="1" fill="#ffffff"/>
<rect x="590" y="169" width="5" height="1" fill="#ffffff"/>
<rect x="590" y="151" width="1" height="19" fill="#ffffff"/>
<rect x="594" y="151" width="1" height="19" fill="#ffffff"/>
<rect x="591" y="152" width="3" height="17" fill="#9a96d2"/>
<rect x="592" y="149" width="2" height="1" fill="#ffffff"/>
<rect x="592" y="171" width="2" height="1" fill="#ffffff"/>
<rect x="596" y="151" width="5" height="1" fill="#ffffff"/>
<rect x="596" y="169" width="5" height="1" fill="#ffffff"/>
<rect x="596" y="151" width="1" height="19" fill="#ffffff"/>
<rect x="600" y="151" width="1" height="19" fill="#ffffff"/>
<rect x="597" y="152" width="3" height="17" fill="#9a96d2"/>
<rect x="598" y="149" width="2" height="1" fill="#ffffff"/>
<rect x="598" y="171" width="2" height="1" fill="#ffffff"/>
<rect x="602" y="151" width="5" height="1" fill="#ffffff"/>
<rect x="602" y="169" width="5" height="1" fill="#ffffff"/>
<rect x="602" y="151" width="1" height="19" fill="#ffffff"/>
<rect x="606" y="151" width="1" height="19" fill="#ffffff"/>
<rect x="603" y="152" width="3" height="17" fill="#9a96d2"/>
<rect x="604" y="149" width="2" height="1" fill="#ffffff"/>
<rect x="604" y="171" width="2" height="1" fill="#ffffff"/>
<rect x="570" y="151" width="29" height="1" fill="#00ffff"/>
<rect x="570" y="169" width="29" height="1" fill="#00ffff"/>
<rect x="570" y="151" width="1" height="19" fill="#00ffff"/>
<rect x="598" y="151" width="1" height="19" fill="#00ffff"/>
<rect x="570" y="160" width="29" height="1" fill="#00ffff"/>
<rect x="553" y="195" width="1" height="134" fill="#ffffff"/>
<rect x="604" y="95" width="78" height="1" fill="#ffffff"/>
<rect x="609" y="96" width="69" height="1" fill="#ffffff"/>
<rect x="604" y="95" width="1" height="99" fill="#ffffff"/>
<rect x="605" y="95" width="1" height="99" fill="#ffffff"/>
<rect x="609" y="96" width="1" height="98" fill="#ffffff"/>
<rect x="606" y="96" width="3" height="97" fill="#9a96d2"/>
<rect x="605" y="107" width="4" height="9" fill="#ffffff"/>
<rect x="606" y="183" width="3" height="9" fill="#7a76b0"/>
<rect x="609" y="173" width="5" height="1" fill="#ffffff"/>
<rect x="609" y="177" width="5" height="1" fill="#ffffff"/>
<rect x="609" y="173" width="1" height="5" fill="#ffffff"/>
<rect x="613" y="173" width="1" height="5" fill="#ffffff"/>
<rect x="676" y="95" width="1" height="99" fill="#ffffff"/>
<rect x="677" y="95" width="1" height="99" fill="#ffffff"/>
<rect x="680" y="95" width="1" height="99" fill="#ffffff"/>
<rect x="604" y="193" width="79" height="1" fill="#ffffff"/>
<rect x="609" y="192" width="69" height="1" fill="#ffffff"/>
<rect x="609" y="100" width="69" height="1" fill="#ffffff"/>
<rect x="614" y="98" width="1" height="1" fill="#ffffff"/>
<rect x="637" y="98" width="1" height="1" fill="#ffffff"/>
<rect x="669" y="98" width="1" height="1" fill="#ffffff"/>
<rect x="640" y="98" width="5" height="3.5" rx="1" fill="none" stroke="#ffffff" stroke-width="1.3" shape-rendering="auto"/>
<rect x="642" y="102" width="2" height="13" fill="#ffffff"/>
<path d="M614.5,115.5 a4,4 0 0 1 8,0" stroke="#ffffff" fill="none" stroke-width="1.5" shape-rendering="auto"/>
<path d="M652.5,115.5 a3,3 0 0 1 6,0" stroke="#ffffff" fill="none" stroke-width="1.5" shape-rendering="auto"/>
<rect x="605" y="115" width="73" height="3" fill="#ffffff"/>
<rect x="605" y="136" width="73" height="3" fill="#ffffff"/>
<rect x="605" y="115" width="1" height="24" fill="#ffffff"/>
<rect x="606" y="115" width="1" height="24" fill="#ffffff"/>
<rect x="677" y="115" width="1" height="24" fill="#ffffff"/>
<rect x="676" y="115" width="1" height="24" fill="#ffffff"/>
<rect x="607" y="118" width="22" height="18" fill="#08004e"/>
<rect x="631" y="118" width="24" height="18" fill="#08004e"/>
<rect x="657" y="118" width="19" height="18" fill="#08004e"/>
<rect x="629" y="117" width="2" height="20" fill="#ffffff"/>
<rect x="655" y="117" width="2" height="20" fill="#ffffff"/>
<circle cx="620.5" cy="127.5" r="2.8" fill="#ffffff" shape-rendering="auto"/>
<circle cx="665.5" cy="127.5" r="2.8" fill="#ffffff" shape-rendering="auto"/>
<rect x="637.5" y="124.5" width="8" height="5" rx="2.5" fill="none" stroke="#ffffff" stroke-width="1" shape-rendering="auto"/>
<rect x="640" y="126" width="4" height="3" fill="#ffffff"/>
<rect x="609" y="139" width="69" height="10" fill="#ffffff"/>
<rect x="611" y="141" width="4" height="6" fill="#08004e"/>
<rect x="617" y="141" width="5" height="3" fill="#08004e"/>
<rect x="623" y="142" width="6" height="4" fill="#08004e"/>
<rect x="631" y="141" width="5" height="6" fill="#08004e"/>
<rect x="638" y="142" width="11" height="4" fill="#08004e"/>
<rect x="650" y="141" width="3" height="6" fill="#08004e"/>
<rect x="655" y="142" width="6" height="4" fill="#08004e"/>
<rect x="662" y="141" width="5" height="3" fill="#08004e"/>
<rect x="668" y="142" width="7" height="5" fill="#08004e"/>
<rect x="609" y="149" width="69" height="1" fill="#ffffff"/>
<rect x="609" y="150" width="69" height="1" fill="#ffffff"/>
<rect x="609" y="170" width="69" height="1" fill="#ffffff"/>
<rect x="609" y="171" width="69" height="1" fill="#ffffff"/>
<rect x="610" y="148" width="2" height="2" fill="#08004e"/>
<rect x="615" y="148" width="2" height="2" fill="#08004e"/>
<rect x="620" y="148" width="2" height="2" fill="#08004e"/>
<rect x="625" y="148" width="2" height="2" fill="#08004e"/>
<rect x="630" y="148" width="2" height="2" fill="#08004e"/>
<rect x="635" y="148" width="2" height="2" fill="#08004e"/>
<rect x="640" y="148" width="2" height="2" fill="#08004e"/>
<rect x="645" y="148" width="2" height="2" fill="#08004e"/>
<rect x="650" y="148" width="2" height="2" fill="#08004e"/>
<rect x="655" y="148" width="2" height="2" fill="#08004e"/>
<rect x="660" y="148" width="2" height="2" fill="#08004e"/>
<rect x="665" y="148" width="2" height="2" fill="#08004e"/>
<rect x="670" y="148" width="2" height="2" fill="#08004e"/>
<rect x="675" y="148" width="2" height="2" fill="#08004e"/>
<rect x="611" y="152" width="24" height="1" fill="#ffffff"/>
<rect x="611" y="168" width="24" height="1" fill="#ffffff"/>
<rect x="611" y="152" width="1" height="17" fill="#ffffff"/>
<rect x="634" y="152" width="1" height="17" fill="#ffffff"/>
<rect x="610" y="151" width="1" height="20" fill="#ffffff"/>
<rect x="636" y="151" width="5" height="1" fill="#ffffff"/>
<rect x="636" y="170" width="5" height="1" fill="#ffffff"/>
<rect x="636" y="151" width="1" height="20" fill="#ffffff"/>
<rect x="640" y="151" width="1" height="20" fill="#ffffff"/>
<rect x="640" y="156" width="21" height="1" fill="#ffffff"/>
<rect x="640" y="164" width="21" height="1" fill="#ffffff"/>
<rect x="661" y="151" width="5" height="1" fill="#ffffff"/>
<rect x="661" y="170" width="5" height="1" fill="#ffffff"/>
<rect x="661" y="151" width="1" height="20" fill="#ffffff"/>
<rect x="665" y="151" width="1" height="20" fill="#ffffff"/>
<rect x="667" y="151" width="5" height="1" fill="#ffffff"/>
<rect x="667" y="170" width="5" height="1" fill="#ffffff"/>
<rect x="667" y="151" width="1" height="20" fill="#ffffff"/>
<rect x="671" y="151" width="1" height="20" fill="#ffffff"/>
<rect x="674" y="151" width="1" height="20" fill="#ffffff"/>
<rect x="665" y="174" width="27" height="1" fill="#ffffff"/>
<rect x="665" y="179" width="27" height="1" fill="#ffffff"/>
<rect x="665" y="174" width="1" height="6" fill="#ffffff"/>
<rect x="691" y="174" width="1" height="6" fill="#ffffff"/>
<rect x="672" y="175" width="3" height="3" fill="#ffffff"/>
<rect x="683" y="175" width="3" height="3" fill="#ffffff"/>
<rect x="676" y="172" width="5" height="11" fill="#ffffff"/>
<rect x="609" y="187" width="69" height="1" fill="#ffffff"/>
<rect x="614" y="189" width="2" height="2" fill="#ffffff"/>
<rect x="639" y="189" width="2" height="2" fill="#ffffff"/>
<rect x="669" y="189" width="2" height="2" fill="#ffffff"/>
<ellipse cx="592.5" cy="109" rx="5.8" ry="4.2" fill="none" stroke="#ffffff" stroke-width="2.2" shape-rendering="auto"/>
<rect x="590" y="108" width="6" height="2" fill="#ffffff"/>
<rect x="592" y="106" width="2" height="6" fill="#ffffff"/>
<rect x="585" y="116" width="15" height="27" rx="2.5" fill="none" stroke="#ffffff" stroke-width="1.4" shape-rendering="auto"/>
<rect x="586" y="120" width="4" height="1" fill="#ffffff"/>
<rect x="586" y="125" width="4" height="1" fill="#ffffff"/>
<rect x="586" y="129" width="4" height="1" fill="#ffffff"/>
<rect x="586" y="134" width="4" height="1" fill="#ffffff"/>
<rect x="586" y="138" width="4" height="1" fill="#ffffff"/>
<rect x="589" y="119" width="3" height="21" fill="#9a96d2"/>
<rect x="592" y="119" width="6" height="3" fill="#ffffff"/>
<rect x="593" y="120" width="4" height="1" fill="#08004e"/>
<rect x="592" y="124" width="6" height="3" fill="#ffffff"/>
<rect x="593" y="125" width="4" height="1" fill="#08004e"/>
<rect x="592" y="128" width="6" height="3" fill="#ffffff"/>
<rect x="593" y="129" width="4" height="1" fill="#08004e"/>
<rect x="592" y="133" width="6" height="3" fill="#ffffff"/>
<rect x="593" y="134" width="4" height="1" fill="#08004e"/>
<rect x="592" y="137" width="6" height="3" fill="#ffffff"/>
<rect x="593" y="138" width="4" height="1" fill="#08004e"/>
<rect x="591" y="121" width="1" height="2" fill="#ffffff"/>
<rect x="597" y="121" width="1" height="2" fill="#ffffff"/>
<rect x="591" y="126" width="1" height="2" fill="#ffffff"/>
<rect x="597" y="126" width="1" height="2" fill="#ffffff"/>
<rect x="591" y="130" width="1" height="2" fill="#ffffff"/>
<rect x="597" y="130" width="1" height="2" fill="#ffffff"/>
<rect x="591" y="135" width="1" height="2" fill="#ffffff"/>
<rect x="597" y="135" width="1" height="2" fill="#ffffff"/>
<rect x="598" y="113" width="5" height="7" fill="#ffffff"/>
<rect x="599" y="114" width="3" height="5" fill="#9a96d2"/>
<rect x="598" y="120" width="5" height="21" fill="#ffffff"/>
<rect x="599" y="124" width="3" height="14" fill="#9a96d2"/>
<rect x="598" y="140" width="6" height="1" fill="#ffffff"/>
<rect x="598" y="148" width="6" height="1" fill="#ffffff"/>
<rect x="598" y="140" width="1" height="9" fill="#ffffff"/>
<rect x="603" y="140" width="1" height="9" fill="#ffffff"/>
<rect x="681" y="106" width="88" height="9" fill="#ffffff"/>
<rect x="683" y="107" width="1" height="7" fill="#08004e"/>
<rect x="685" y="108" width="2" height="1" fill="#08004e"/>
<rect x="685" y="111" width="2" height="1" fill="#08004e"/>
<rect x="688" y="109" width="1" height="2" fill="#08004e"/>
<rect x="689" y="107" width="1" height="7" fill="#08004e"/>
<rect x="691" y="108" width="2" height="1" fill="#08004e"/>
<rect x="691" y="111" width="2" height="1" fill="#08004e"/>
<rect x="694" y="109" width="1" height="2" fill="#08004e"/>
<rect x="695" y="107" width="1" height="7" fill="#08004e"/>
<rect x="697" y="108" width="2" height="1" fill="#08004e"/>
<rect x="697" y="111" width="2" height="1" fill="#08004e"/>
<rect x="700" y="109" width="1" height="2" fill="#08004e"/>
<rect x="701" y="107" width="1" height="7" fill="#08004e"/>
<rect x="703" y="108" width="2" height="1" fill="#08004e"/>
<rect x="703" y="111" width="2" height="1" fill="#08004e"/>
<rect x="706" y="109" width="1" height="2" fill="#08004e"/>
<rect x="707" y="107" width="1" height="7" fill="#08004e"/>
<rect x="709" y="108" width="2" height="1" fill="#08004e"/>
<rect x="709" y="111" width="2" height="1" fill="#08004e"/>
<rect x="712" y="109" width="1" height="2" fill="#08004e"/>
<rect x="713" y="107" width="1" height="7" fill="#08004e"/>
<rect x="715" y="108" width="2" height="1" fill="#08004e"/>
<rect x="715" y="111" width="2" height="1" fill="#08004e"/>
<rect x="718" y="109" width="1" height="2" fill="#08004e"/>
<rect x="719" y="107" width="1" height="7" fill="#08004e"/>
<rect x="721" y="108" width="2" height="1" fill="#08004e"/>
<rect x="721" y="111" width="2" height="1" fill="#08004e"/>
<rect x="724" y="109" width="1" height="2" fill="#08004e"/>
<rect x="725" y="107" width="1" height="7" fill="#08004e"/>
<rect x="727" y="108" width="2" height="1" fill="#08004e"/>
<rect x="727" y="111" width="2" height="1" fill="#08004e"/>
<rect x="730" y="109" width="1" height="2" fill="#08004e"/>
<rect x="731" y="107" width="1" height="7" fill="#08004e"/>
<rect x="733" y="108" width="2" height="1" fill="#08004e"/>
<rect x="733" y="111" width="2" height="1" fill="#08004e"/>
<rect x="736" y="109" width="1" height="2" fill="#08004e"/>
<rect x="737" y="107" width="1" height="7" fill="#08004e"/>
<rect x="739" y="108" width="2" height="1" fill="#08004e"/>
<rect x="739" y="111" width="2" height="1" fill="#08004e"/>
<rect x="742" y="109" width="1" height="2" fill="#08004e"/>
<rect x="743" y="107" width="1" height="7" fill="#08004e"/>
<rect x="745" y="108" width="2" height="1" fill="#08004e"/>
<rect x="745" y="111" width="2" height="1" fill="#08004e"/>
<rect x="748" y="109" width="1" height="2" fill="#08004e"/>
<rect x="749" y="107" width="1" height="7" fill="#08004e"/>
<rect x="751" y="108" width="2" height="1" fill="#08004e"/>
<rect x="751" y="111" width="2" height="1" fill="#08004e"/>
<rect x="754" y="109" width="1" height="2" fill="#08004e"/>
<rect x="755" y="107" width="1" height="7" fill="#08004e"/>
<rect x="757" y="108" width="2" height="1" fill="#08004e"/>
<rect x="757" y="111" width="2" height="1" fill="#08004e"/>
<rect x="760" y="109" width="1" height="2" fill="#08004e"/>
<rect x="761" y="107" width="1" height="7" fill="#08004e"/>
<rect x="763" y="108" width="2" height="1" fill="#08004e"/>
<rect x="763" y="111" width="2" height="1" fill="#08004e"/>
<rect x="766" y="109" width="1" height="2" fill="#08004e"/>
<rect x="681" y="114" width="79" height="30" fill="#ffffff"/>
<rect x="759" y="114" width="10" height="11" fill="#ffffff"/>
<rect x="685" y="116" width="2" height="3" fill="#08004e"/>
<rect x="689" y="116" width="1" height="3" fill="#08004e"/>
<rect x="696" y="116" width="1" height="3" fill="#08004e"/>
<rect x="700" y="116" width="2" height="3" fill="#08004e"/>
<rect x="706" y="116" width="1" height="3" fill="#08004e"/>
<rect x="711" y="116" width="1" height="3" fill="#08004e"/>
<rect x="715" y="116" width="2" height="3" fill="#08004e"/>
<rect x="719" y="116" width="1" height="3" fill="#08004e"/>
<rect x="723" y="116" width="1" height="3" fill="#08004e"/>
<rect x="729" y="116" width="2" height="3" fill="#08004e"/>
<rect x="734" y="116" width="1" height="3" fill="#08004e"/>
<rect x="740" y="116" width="1" height="3" fill="#08004e"/>
<rect x="744" y="116" width="2" height="3" fill="#08004e"/>
<rect x="748" y="116" width="1" height="3" fill="#08004e"/>
<rect x="752" y="116" width="1" height="3" fill="#08004e"/>
<rect x="756" y="116" width="2" height="3" fill="#08004e"/>
<rect x="685" y="120" width="2" height="4" fill="#08004e"/>
<rect x="689" y="120" width="1" height="4" fill="#08004e"/>
<rect x="696" y="120" width="1" height="4" fill="#08004e"/>
<rect x="700" y="120" width="2" height="4" fill="#08004e"/>
<rect x="706" y="120" width="1" height="4" fill="#08004e"/>
<rect x="711" y="120" width="1" height="4" fill="#08004e"/>
<rect x="715" y="120" width="2" height="4" fill="#08004e"/>
<rect x="719" y="120" width="1" height="4" fill="#08004e"/>
<rect x="723" y="120" width="1" height="4" fill="#08004e"/>
<rect x="729" y="120" width="2" height="4" fill="#08004e"/>
<rect x="734" y="120" width="1" height="4" fill="#08004e"/>
<rect x="740" y="120" width="1" height="4" fill="#08004e"/>
<rect x="744" y="120" width="2" height="4" fill="#08004e"/>
<rect x="748" y="120" width="1" height="4" fill="#08004e"/>
<rect x="752" y="120" width="1" height="4" fill="#08004e"/>
<rect x="756" y="120" width="2" height="4" fill="#08004e"/>
<rect x="685" y="125" width="2" height="5" fill="#08004e"/>
<rect x="689" y="125" width="1" height="5" fill="#08004e"/>
<rect x="696" y="125" width="1" height="5" fill="#08004e"/>
<rect x="700" y="125" width="2" height="5" fill="#08004e"/>
<rect x="706" y="125" width="1" height="5" fill="#08004e"/>
<rect x="711" y="125" width="1" height="5" fill="#08004e"/>
<rect x="715" y="125" width="2" height="5" fill="#08004e"/>
<rect x="719" y="125" width="1" height="5" fill="#08004e"/>
<rect x="723" y="125" width="1" height="5" fill="#08004e"/>
<rect x="729" y="125" width="2" height="5" fill="#08004e"/>
<rect x="734" y="125" width="1" height="5" fill="#08004e"/>
<rect x="740" y="125" width="1" height="5" fill="#08004e"/>
<rect x="744" y="125" width="2" height="5" fill="#08004e"/>
<rect x="748" y="125" width="1" height="5" fill="#08004e"/>
<rect x="752" y="125" width="1" height="5" fill="#08004e"/>
<rect x="756" y="125" width="2" height="5" fill="#08004e"/>
<rect x="685" y="131" width="2" height="5" fill="#08004e"/>
<rect x="689" y="131" width="1" height="5" fill="#08004e"/>
<rect x="696" y="131" width="1" height="5" fill="#08004e"/>
<rect x="700" y="131" width="2" height="5" fill="#08004e"/>
<rect x="706" y="131" width="1" height="5" fill="#08004e"/>
<rect x="711" y="131" width="1" height="5" fill="#08004e"/>
<rect x="715" y="131" width="2" height="5" fill="#08004e"/>
<rect x="719" y="131" width="1" height="5" fill="#08004e"/>
<rect x="723" y="131" width="1" height="5" fill="#08004e"/>
<rect x="729" y="131" width="2" height="5" fill="#08004e"/>
<rect x="734" y="131" width="1" height="5" fill="#08004e"/>
<rect x="740" y="131" width="1" height="5" fill="#08004e"/>
<rect x="744" y="131" width="2" height="5" fill="#08004e"/>
<rect x="748" y="131" width="1" height="5" fill="#08004e"/>
<rect x="752" y="131" width="1" height="5" fill="#08004e"/>
<rect x="756" y="131" width="2" height="5" fill="#08004e"/>
<rect x="685" y="137" width="2" height="4" fill="#08004e"/>
<rect x="689" y="137" width="1" height="4" fill="#08004e"/>
<rect x="696" y="137" width="1" height="4" fill="#08004e"/>
<rect x="700" y="137" width="2" height="4" fill="#08004e"/>
<rect x="706" y="137" width="1" height="4" fill="#08004e"/>
<rect x="711" y="137" width="1" height="4" fill="#08004e"/>
<rect x="715" y="137" width="2" height="4" fill="#08004e"/>
<rect x="719" y="137" width="1" height="4" fill="#08004e"/>
<rect x="723" y="137" width="1" height="4" fill="#08004e"/>
<rect x="729" y="137" width="2" height="4" fill="#08004e"/>
<rect x="734" y="137" width="1" height="4" fill="#08004e"/>
<rect x="740" y="137" width="1" height="4" fill="#08004e"/>
<rect x="744" y="137" width="2" height="4" fill="#08004e"/>
<rect x="748" y="137" width="1" height="4" fill="#08004e"/>
<rect x="752" y="137" width="1" height="4" fill="#08004e"/>
<rect x="756" y="137" width="2" height="4" fill="#08004e"/>
<rect x="764" y="115" width="1" height="8" fill="#08004e"/>
<rect x="684" y="100" width="3" height="7" fill="#ffffff"/>
<rect x="717" y="100" width="3" height="7" fill="#ffffff"/>
<rect x="761" y="100" width="4" height="7" fill="#ffffff"/>
<circle cx="734.5" cy="102.5" r="2.2" fill="none" stroke="#ffffff" stroke-width="1.2" shape-rendering="auto"/>
<rect x="746" y="103" width="10" height="4" fill="#ffffff"/>
<rect x="682" y="150" width="129" height="1" fill="#ffffff"/>
<rect x="682" y="169" width="129" height="1" fill="#ffffff"/>
<rect x="682" y="170" width="129" height="1" fill="#ffffff"/>
<rect x="810" y="150" width="1" height="22" fill="#ffffff"/>
<rect x="802" y="151" width="4" height="1" fill="#ffffff"/>
<rect x="802" y="169" width="4" height="1" fill="#ffffff"/>
<rect x="802" y="151" width="1" height="19" fill="#ffffff"/>
<rect x="805" y="151" width="1" height="19" fill="#ffffff"/>
<rect x="684" y="149" width="2" height="1" fill="#ffffff"/>
<rect x="684" y="171" width="2" height="1" fill="#ffffff"/>
<rect x="690" y="149" width="2" height="1" fill="#ffffff"/>
<rect x="690" y="171" width="2" height="1" fill="#ffffff"/>
<rect x="696" y="149" width="2" height="1" fill="#ffffff"/>
<rect x="696" y="171" width="2" height="1" fill="#ffffff"/>
<rect x="702" y="149" width="2" height="1" fill="#ffffff"/>
<rect x="702" y="171" width="2" height="1" fill="#ffffff"/>
<rect x="708" y="149" width="2" height="1" fill="#ffffff"/>
<rect x="708" y="171" width="2" height="1" fill="#ffffff"/>
<rect x="714" y="149" width="2" height="1" fill="#ffffff"/>
<rect x="714" y="171" width="2" height="1" fill="#ffffff"/>
<rect x="720" y="149" width="2" height="1" fill="#ffffff"/>
<rect x="720" y="171" width="2" height="1" fill="#ffffff"/>
<rect x="726" y="149" width="2" height="1" fill="#ffffff"/>
<rect x="726" y="171" width="2" height="1" fill="#ffffff"/>
<rect x="732" y="149" width="2" height="1" fill="#ffffff"/>
<rect x="732" y="171" width="2" height="1" fill="#ffffff"/>
<rect x="738" y="149" width="2" height="1" fill="#ffffff"/>
<rect x="738" y="171" width="2" height="1" fill="#ffffff"/>
<rect x="744" y="149" width="2" height="1" fill="#ffffff"/>
<rect x="744" y="171" width="2" height="1" fill="#ffffff"/>
<rect x="750" y="149" width="2" height="1" fill="#ffffff"/>
<rect x="750" y="171" width="2" height="1" fill="#ffffff"/>
<rect x="756" y="149" width="2" height="1" fill="#ffffff"/>
<rect x="756" y="171" width="2" height="1" fill="#ffffff"/>
<rect x="762" y="149" width="2" height="1" fill="#ffffff"/>
<rect x="762" y="171" width="2" height="1" fill="#ffffff"/>
<rect x="768" y="149" width="2" height="1" fill="#ffffff"/>
<rect x="768" y="171" width="2" height="1" fill="#ffffff"/>
<rect x="774" y="149" width="2" height="1" fill="#ffffff"/>
<rect x="774" y="171" width="2" height="1" fill="#ffffff"/>
<rect x="780" y="149" width="2" height="1" fill="#ffffff"/>
<rect x="780" y="171" width="2" height="1" fill="#ffffff"/>
<rect x="786" y="149" width="2" height="1" fill="#ffffff"/>
<rect x="786" y="171" width="2" height="1" fill="#ffffff"/>
<rect x="792" y="149" width="2" height="1" fill="#ffffff"/>
<rect x="792" y="171" width="2" height="1" fill="#ffffff"/>
<rect x="798" y="149" width="2" height="1" fill="#ffffff"/>
<rect x="798" y="171" width="2" height="1" fill="#ffffff"/>
<rect x="804" y="149" width="2" height="1" fill="#ffffff"/>
<rect x="804" y="171" width="2" height="1" fill="#ffffff"/>
<rect x="810" y="149" width="2" height="1" fill="#ffffff"/>
<rect x="810" y="171" width="2" height="1" fill="#ffffff"/>
<rect x="682" y="150" width="1" height="21" fill="#ffffff"/>
<rect x="690" y="151" width="1" height="19" fill="#ffffff"/>
<rect x="692" y="151" width="1" height="19" fill="#ffffff"/>
<rect x="720" y="151" width="4" height="1" fill="#ffffff"/>
<rect x="720" y="169" width="4" height="1" fill="#ffffff"/>
<rect x="720" y="151" width="1" height="19" fill="#ffffff"/>
<rect x="723" y="151" width="1" height="19" fill="#ffffff"/>
<rect x="726" y="151" width="4" height="1" fill="#ffffff"/>
<rect x="726" y="169" width="4" height="1" fill="#ffffff"/>
<rect x="726" y="151" width="1" height="19" fill="#ffffff"/>
<rect x="729" y="151" width="1" height="19" fill="#ffffff"/>
<rect x="732" y="151" width="4" height="1" fill="#ffffff"/>
<rect x="732" y="169" width="4" height="1" fill="#ffffff"/>
<rect x="732" y="151" width="1" height="19" fill="#ffffff"/>
<rect x="735" y="151" width="1" height="19" fill="#ffffff"/>
<rect x="738" y="151" width="4" height="1" fill="#ffffff"/>
<rect x="738" y="169" width="4" height="1" fill="#ffffff"/>
<rect x="738" y="151" width="1" height="19" fill="#ffffff"/>
<rect x="741" y="151" width="1" height="19" fill="#ffffff"/>
<rect x="745" y="151" width="4" height="1" fill="#ffffff"/>
<rect x="745" y="169" width="4" height="1" fill="#ffffff"/>
<rect x="745" y="151" width="1" height="19" fill="#ffffff"/>
<rect x="748" y="151" width="1" height="19" fill="#ffffff"/>
<rect x="751" y="151" width="4" height="1" fill="#ffffff"/>
<rect x="751" y="169" width="4" height="1" fill="#ffffff"/>
<rect x="751" y="151" width="1" height="19" fill="#ffffff"/>
<rect x="754" y="151" width="1" height="19" fill="#ffffff"/>
<rect x="757" y="151" width="4" height="1" fill="#ffffff"/>
<rect x="757" y="169" width="4" height="1" fill="#ffffff"/>
<rect x="757" y="151" width="1" height="19" fill="#ffffff"/>
<rect x="760" y="151" width="1" height="19" fill="#ffffff"/>
<rect x="764" y="151" width="4" height="1" fill="#ffffff"/>
<rect x="764" y="169" width="4" height="1" fill="#ffffff"/>
<rect x="764" y="151" width="1" height="19" fill="#ffffff"/>
<rect x="767" y="151" width="1" height="19" fill="#ffffff"/>
<rect x="770" y="151" width="4" height="1" fill="#ffffff"/>
<rect x="770" y="169" width="4" height="1" fill="#ffffff"/>
<rect x="770" y="151" width="1" height="19" fill="#ffffff"/>
<rect x="773" y="151" width="1" height="19" fill="#ffffff"/>
<rect x="776" y="151" width="4" height="1" fill="#ffffff"/>
<rect x="776" y="169" width="4" height="1" fill="#ffffff"/>
<rect x="776" y="151" width="1" height="19" fill="#ffffff"/>
<rect x="779" y="151" width="1" height="19" fill="#ffffff"/>
<rect x="782" y="151" width="4" height="1" fill="#ffffff"/>
<rect x="782" y="169" width="4" height="1" fill="#ffffff"/>
<rect x="782" y="151" width="1" height="19" fill="#ffffff"/>
<rect x="785" y="151" width="1" height="19" fill="#ffffff"/>
<rect x="789" y="151" width="4" height="1" fill="#ffffff"/>
<rect x="789" y="169" width="4" height="1" fill="#ffffff"/>
<rect x="789" y="151" width="1" height="19" fill="#ffffff"/>
<rect x="792" y="151" width="1" height="19" fill="#ffffff"/>
<rect x="795" y="151" width="4" height="1" fill="#ffffff"/>
<rect x="795" y="169" width="4" height="1" fill="#ffffff"/>
<rect x="795" y="151" width="1" height="19" fill="#ffffff"/>
<rect x="798" y="151" width="1" height="19" fill="#ffffff"/>
<rect x="801" y="151" width="4" height="1" fill="#ffffff"/>
<rect x="801" y="169" width="4" height="1" fill="#ffffff"/>
<rect x="801" y="151" width="1" height="19" fill="#ffffff"/>
<rect x="804" y="151" width="1" height="19" fill="#ffffff"/>
<rect x="808" y="151" width="4" height="1" fill="#ffffff"/>
<rect x="808" y="169" width="4" height="1" fill="#ffffff"/>
<rect x="808" y="151" width="1" height="19" fill="#ffffff"/>
<rect x="811" y="151" width="1" height="19" fill="#ffffff"/>
<rect x="733" y="151" width="29" height="1" fill="#00ffff"/>
<rect x="733" y="169" width="29" height="1" fill="#00ffff"/>
<rect x="733" y="151" width="1" height="19" fill="#00ffff"/>
<rect x="761" y="151" width="1" height="19" fill="#00ffff"/>
<rect x="733" y="160" width="29" height="1" fill="#00ffff"/>
<rect x="773" y="151" width="29" height="1" fill="#00ffff"/>
<rect x="773" y="169" width="29" height="1" fill="#00ffff"/>
<rect x="773" y="151" width="1" height="19" fill="#00ffff"/>
<rect x="801" y="151" width="1" height="19" fill="#00ffff"/>
<rect x="773" y="160" width="29" height="1" fill="#00ffff"/>
<rect x="682" y="174" width="10" height="1" fill="#ffffff"/>
<rect x="682" y="179" width="10" height="1" fill="#ffffff"/>
<rect x="682" y="174" width="1" height="6" fill="#ffffff"/>
<rect x="691" y="174" width="1" height="6" fill="#ffffff"/>
<rect x="685" y="176" width="4" height="2" fill="#ffffff"/>
<rect x="695" y="178" width="67" height="1" fill="#ffffff"/>
<rect x="695" y="198" width="67" height="1" fill="#ffffff"/>
<rect x="695" y="178" width="1" height="21" fill="#ffffff"/>
<rect x="761" y="178" width="1" height="21" fill="#ffffff"/>
<rect x="695" y="188" width="67" height="1" fill="#ffffff"/>
<path d="M700,195 L700,193 L702,191.5 L704,193 L704,195 Z" fill="#ffffff"/>
<rect x="728" y="192" width="3" height="3" fill="#ffffff"/>
<rect x="737" y="192" width="3" height="3" fill="#ffffff"/>
<rect x="747" y="192" width="3" height="3" fill="#ffffff"/>
<rect x="726" y="199" width="2" height="2" fill="#ffffff"/>
<rect x="729" y="199" width="2" height="2" fill="#ffffff"/>
<rect x="811" y="172" width="1" height="157" fill="#ffffff"/>
<rect x="821" y="132" width="130" height="2" fill="#ff00ff"/>
<rect x="821" y="132" width="1" height="58" fill="#ff00ff"/>
<rect x="822" y="132" width="1" height="58" fill="#ff00ff"/>
<rect x="821" y="136" width="126" height="1" fill="#ff00ff"/>
<rect x="821" y="186" width="129" height="1" fill="#ff00ff"/>
<rect x="821" y="188" width="129" height="1" fill="#ff00ff"/>
<rect x="821" y="190" width="129" height="1" fill="#ff00ff"/>
<rect x="949" y="132" width="1" height="60" fill="#ff00ff"/>
<rect x="946" y="132" width="1" height="60" fill="#ff00ff"/>
<rect x="947" y="136" width="1" height="55" fill="#ff00ff"/>
<rect x="876" y="136" width="1" height="53" fill="#ff00ff"/>
<rect x="823" y="136" width="23" height="52" fill="#ff0000"/>
<rect x="825" y="140" width="6" height="4" fill="#08004e"/>
<rect x="831" y="137" width="2" height="7" fill="#08004e"/>
<rect x="835" y="137" width="3" height="8" fill="#08004e"/>
<rect x="839" y="137" width="2" height="7" fill="#08004e"/>
<rect x="841" y="138" width="4" height="6" fill="#08004e"/>
<rect x="830" y="148" width="4" height="1" fill="#08004e"/>
<rect x="838" y="148" width="3" height="1" fill="#08004e"/>
<rect x="843" y="148" width="3" height="1" fill="#08004e"/>
<rect x="824" y="157" width="2" height="8" fill="#08004e"/>
<rect x="827" y="157" width="3" height="8" fill="#08004e"/>
<rect x="833" y="157" width="2" height="8" fill="#08004e"/>
<rect x="837" y="157" width="3" height="8" fill="#08004e"/>
<rect x="842" y="157" width="3" height="8" fill="#08004e"/>
<rect x="825" y="167" width="5" height="5" fill="#08004e"/>
<rect x="831" y="173" width="5" height="1" fill="#08004e"/>
<rect x="838" y="173" width="4" height="1" fill="#08004e"/>
<rect x="843" y="173" width="3" height="1" fill="#08004e"/>
<rect x="823" y="180" width="7" height="5" fill="#08004e"/>
<rect x="832" y="180" width="2" height="8" fill="#08004e"/>
<rect x="838" y="180" width="3" height="8" fill="#08004e"/>
<rect x="842" y="180" width="3" height="8" fill="#08004e"/>
<rect x="823" y="137" width="6" height="3" fill="#ff00ff"/>
<rect x="824" y="138" width="4" height="1" fill="#08004e"/>
<rect x="823" y="185" width="7" height="1" fill="#ff00ff"/>
<rect x="823" y="187" width="7" height="1" fill="#ff00ff"/>
<rect x="823" y="185" width="1" height="3" fill="#ff00ff"/>
<rect x="829" y="185" width="1" height="3" fill="#ff00ff"/>
<rect x="811" y="150" width="11" height="1" fill="#ff0000"/>
<rect x="811" y="155" width="11" height="1" fill="#ff0000"/>
<rect x="811" y="150" width="1" height="6" fill="#ff0000"/>
<rect x="811" y="167" width="11" height="1" fill="#ff0000"/>
<rect x="811" y="171" width="11" height="1" fill="#ff0000"/>
<rect x="811" y="167" width="1" height="5" fill="#ff0000"/>
<rect x="817" y="149" width="1" height="28" fill="#ff0000"/>
<rect x="818" y="148" width="4" height="1" fill="#ff0000"/>
<rect x="818" y="177" width="4" height="1" fill="#ff0000"/>
<rect x="817" y="155" width="60" height="1" fill="#ff00ff"/>
<rect x="846" y="137" width="10" height="7" fill="#00ff00"/>
<rect x="849" y="141" width="4" height="3" fill="#08004e"/>
<rect x="846" y="181" width="11" height="7" fill="#00ff00"/>
<rect x="846" y="133" width="2" height="58" fill="#00ff00"/>
<rect x="854" y="133" width="2" height="58" fill="#00ff00"/>
<rect x="848" y="144" width="6" height="11" fill="#ff0000"/>
<rect x="848" y="156" width="6" height="10" fill="#08004e"/>
<rect x="850" y="156" width="2" height="10" fill="#ff0000"/>
<rect x="848" y="166" width="6" height="9" fill="#ff0000"/>
<rect x="848" y="175" width="6" height="6" fill="#08004e"/>
<rect x="849" y="131" width="2" height="3" fill="#00ff00"/>
<rect x="852" y="131" width="2" height="3" fill="#00ff00"/>
<rect x="856" y="136" width="11" height="52" fill="#ff0000"/>
<rect x="857" y="138" width="3" height="6" fill="#08004e"/>
<rect x="861" y="157" width="3" height="8" fill="#08004e"/>
<rect x="858" y="180" width="3" height="7" fill="#08004e"/>
<rect x="864" y="180" width="3" height="7" fill="#08004e"/>
<rect x="866" y="135" width="16" height="53" fill="#ff0000"/>
<rect x="867" y="140" width="8" height="1" fill="#08004e"/>
<rect x="867" y="146" width="8" height="1" fill="#08004e"/>
<rect x="867" y="153" width="8" height="1" fill="#08004e"/>
<rect x="867" y="158" width="8" height="1" fill="#08004e"/>
<rect x="867" y="163" width="8" height="1" fill="#08004e"/>
<rect x="867" y="170" width="8" height="1" fill="#08004e"/>
<rect x="867" y="176" width="8" height="1" fill="#08004e"/>
<rect x="867" y="183" width="8" height="1" fill="#08004e"/>
<rect x="868" y="148" width="5" height="4" fill="#08004e"/>
<rect x="870" y="160" width="4" height="3" fill="#08004e"/>
<rect x="868" y="172" width="4" height="3" fill="#08004e"/>
<rect x="877" y="140" width="4" height="2" fill="#08004e"/>
<rect x="877" y="152" width="4" height="2" fill="#08004e"/>
<rect x="877" y="168" width="4" height="2" fill="#08004e"/>
<rect x="877" y="181" width="4" height="2" fill="#08004e"/>
<rect x="876" y="136" width="1" height="53" fill="#ff00ff"/>
<rect x="866" y="135" width="76" height="3" fill="#ff0000"/>
<rect x="891" y="137" width="19" height="11" fill="#ff0000"/>
<rect x="893" y="140" width="5" height="1" fill="#08004e"/>
<rect x="900" y="140" width="7" height="1" fill="#08004e"/>
<rect x="894" y="143" width="6" height="2" fill="#08004e"/>
<rect x="902" y="143" width="4" height="1" fill="#08004e"/>
<rect x="904" y="147" width="8" height="16" fill="#ff0000"/>
<rect x="906" y="150" width="3" height="5" fill="#08004e"/>
<rect x="881" y="137" width="10" height="51" fill="#ff0000"/>
<rect x="884" y="150" width="2" height="7" fill="#08004e"/>
<rect x="887" y="162" width="2" height="9" fill="#08004e"/>
<rect x="884" y="175" width="2" height="7" fill="#08004e"/>
<rect x="890" y="149" width="16" height="1" fill="#a08080"/>
<rect x="905" y="149" width="1" height="27" fill="#a08080"/>
<rect x="890" y="175" width="16" height="1" fill="#a08080"/>
<rect x="858" y="166" width="24" height="1" fill="#a08080"/>
<rect x="858" y="166" width="1" height="23" fill="#a08080"/>
<rect x="877" y="178" width="19" height="1" fill="#ff0000"/>
<rect x="877" y="179" width="19" height="1" fill="#ff0000"/>
<rect x="933" y="128" width="7" height="17" fill="#ff0000"/>
<rect x="930" y="134" width="16" height="8" fill="#ff0000"/>
<rect x="935" y="144" width="4" height="27" fill="#ff0000"/>
<rect x="934" y="150" width="1" height="19" fill="#ff0000"/>
<rect x="927" y="147" width="1" height="42" fill="#ff0000"/>
<rect x="932" y="140" width="1" height="49" fill="#ff00ff"/>
<rect x="938" y="144" width="1" height="50" fill="#ff0000"/>
<rect x="934" y="160" width="3" height="8" fill="#ff0000"/>
<path d="M913.5,147 C911,150 911,155 912.5,158 M918.5,146 L913.5,158 M924.5,146 L917.5,157" stroke="#ff0000" stroke-width="1.3" fill="none" shape-rendering="auto"/>
<rect x="909" y="141" width="18" height="4" fill="#ff0000"/>
<rect x="889" y="160" width="39" height="1" fill="#ff00ff"/>
<rect x="889" y="164" width="39" height="1" fill="#ff00ff"/>
<path d="M906.5,162 C906.5,172 909,181 917,188" stroke="#ff0000" stroke-width="1.2" fill="none" shape-rendering="auto"/>
<rect x="857" y="190" width="1" height="11" fill="#00ff00"/>
<rect x="858" y="190" width="1" height="11" fill="#00ff00"/>
<rect x="857" y="200" width="9" height="1" fill="#00ff00"/>
<rect x="861" y="196" width="5" height="5" fill="#00ff00"/>
<rect x="866" y="191" width="2" height="12" fill="#ff0000"/>
<rect x="868" y="196" width="9" height="8" fill="#ff0000"/>
<rect x="875" y="183" width="1" height="21" fill="#ff0000"/>
<rect x="874" y="204" width="2" height="1" fill="#00ff00"/>
<rect x="879" y="203" width="2" height="2" fill="#00ff00"/>
<rect x="866" y="193" width="79" height="3" fill="#ff0000"/>
<rect x="866" y="199" width="79" height="5" fill="#ff0000"/>
<rect x="866" y="193" width="1" height="11" fill="#ff0000"/>
<rect x="944" y="193" width="1" height="11" fill="#ff0000"/>
<rect x="877" y="198" width="51" height="1" fill="#00ff00"/>
<rect x="876" y="203" width="3" height="3" fill="#00ff00"/>
<rect x="925" y="203" width="4" height="3" fill="#00ff00"/>
<rect x="873" y="203" width="1" height="61" fill="#ff0000"/>
<rect x="874" y="203" width="1" height="61" fill="#ff0000"/>
<rect x="878" y="203" width="1" height="61" fill="#ff0000"/>
<rect x="879" y="203" width="1" height="61" fill="#ff0000"/>
<rect x="881" y="203" width="1" height="61" fill="#ff0000"/>
<rect x="926" y="203" width="1" height="61" fill="#ff0000"/>
<rect x="929" y="203" width="1" height="61" fill="#ff0000"/>
<rect x="932" y="203" width="1" height="61" fill="#ff0000"/>
<rect x="941" y="203" width="1" height="61" fill="#ff0000"/>
<rect x="892" y="203" width="8" height="62" fill="#ff0000"/>
<rect x="894" y="230" width="1" height="29" fill="#b00000"/>
<rect x="899" y="214" width="43" height="1" fill="#ff0000"/>
<rect x="899" y="251" width="43" height="1" fill="#ff0000"/>
<rect x="873" y="213" width="11" height="1" fill="#ff0000"/>
<rect x="873" y="247" width="11" height="1" fill="#ff0000"/>
<rect x="885" y="228" width="20" height="1" fill="#ff0000"/>
<rect x="885" y="233" width="20" height="1" fill="#ff0000"/>
<rect x="885" y="228" width="1" height="6" fill="#ff0000"/>
<rect x="904" y="228" width="1" height="6" fill="#ff0000"/>
<rect x="889" y="226" width="7" height="13" fill="#ff0000"/>
<rect x="873" y="257" width="69" height="1" fill="#ff0000"/>
<rect x="873" y="260" width="69" height="1" fill="#ff0000"/>
<rect x="873" y="263" width="69" height="1" fill="#ff0000"/>
<rect x="873" y="264" width="69" height="1" fill="#ff0000"/>
<rect x="873" y="257" width="11" height="8" fill="#ff0000"/>
<rect x="926" y="257" width="16" height="8" fill="#ff0000"/>
<rect x="938" y="135" width="14" height="4" fill="#ff0000"/>
<rect x="951" y="138" width="1" height="231" fill="#ffffff"/>
</svg></body></html>
